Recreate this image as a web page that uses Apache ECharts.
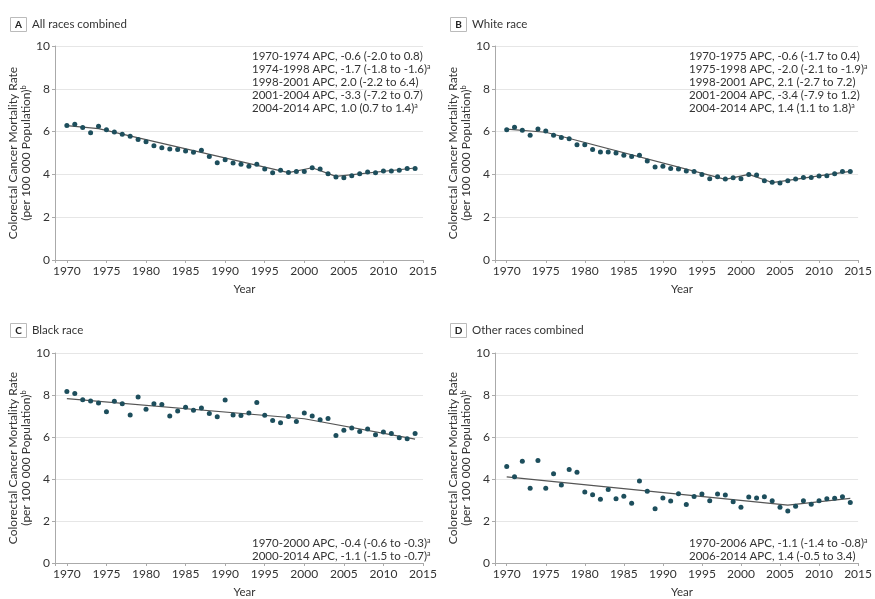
<!DOCTYPE html>
<html>
<head>
<meta charset="utf-8">
<script src="https://cdn.jsdelivr.net/npm/echarts@6/dist/echarts.min.js"></script>
<style>
  html, body { margin: 0; padding: 0; background: #fff; }
  #chart { width: 875px; height: 599px; }
</style>
</head>
<body>
<div id="chart"></div>
<script>
// 年份
const years = [1970, 1971, 1972, 1973, 1974, 1975, 1976, 1977, 1978, 1979,
  1980, 1981, 1982, 1983, 1984, 1985, 1986, 1987, 1988, 1989,
  1990, 1991, 1992, 1993, 1994, 1995, 1996, 1997, 1998, 1999,
  2000, 2001, 2002, 2003, 2004, 2005, 2006, 2007, 2008, 2009,
  2010, 2011, 2012, 2013, 2014];

// 各组死亡率 (per 100 000)
const allRaces = [6.28, 6.34, 6.19, 5.95, 6.25, 6.09, 5.98, 5.88, 5.78, 5.63,
  5.53, 5.34, 5.25, 5.19, 5.16, 5.09, 5.03, 5.13, 4.84, 4.55,
  4.69, 4.53, 4.47, 4.38, 4.47, 4.25, 4.08, 4.19, 4.09, 4.13,
  4.13, 4.31, 4.25, 4.03, 3.88, 3.84, 3.94, 4.03, 4.11, 4.08,
  4.16, 4.16, 4.19, 4.28, 4.28];
const whiteRace = [6.09, 6.2, 6.06, 5.83, 6.12, 6.03, 5.83, 5.73, 5.67, 5.39,
  5.39, 5.16, 5.05, 5.05, 5.0, 4.89, 4.84, 4.89, 4.63, 4.34,
  4.38, 4.28, 4.25, 4.16, 4.14, 4.0, 3.80, 3.89, 3.78, 3.84,
  3.80, 4.0, 3.97, 3.70, 3.63, 3.60, 3.70, 3.78, 3.86, 3.85,
  3.93, 3.94, 4.03, 4.13, 4.13];
const blackRace = [8.17, 8.07, 7.77, 7.71, 7.62, 7.2, 7.7, 7.58, 7.05, 7.9,
  7.32, 7.58, 7.55, 7.0, 7.24, 7.42, 7.27, 7.38, 7.12, 6.97,
  7.76, 7.05, 7.02, 7.14, 7.64, 7.04, 6.79, 6.68, 6.98, 6.74,
  7.14, 7.0, 6.82, 6.88, 6.07, 6.32, 6.43, 6.26, 6.38, 6.11,
  6.24, 6.17, 5.96, 5.92, 6.17];
const otherRaces = [4.59, 4.11, 4.84, 3.56, 4.88, 3.56, 4.25, 3.72, 4.45, 4.32,
  3.38, 3.25, 3.04, 3.5, 3.06, 3.18, 2.84, 3.9, 3.42, 2.58,
  3.09, 2.95, 3.3, 2.78, 3.17, 3.28, 2.97, 3.28, 3.24, 2.92,
  2.66, 3.14, 3.1, 3.15, 2.97, 2.66, 2.48, 2.7, 2.97, 2.8,
  2.97, 3.06, 3.08, 3.15, 2.88];

// Joinpoint 拟合线的转折点
const joinYearsA = [1970, 1974, 1998, 2001, 2004, 2014];
const joinRateA = [6.28, 6.14, 4.08, 4.31, 3.91, 4.30];
const joinYearsB = [1970, 1975, 1998, 2001, 2004, 2014];
const joinRateB = [6.12, 5.97, 3.77, 4.0, 3.62, 4.14];
const joinYearsC = [1970, 2000, 2014];
const joinRateC = [7.83, 6.87, 5.9];
const joinYearsD = [1970, 2006, 2014];
const joinRateD = [4.1, 2.76, 3.08];

const panelLetters = ['A', 'B', 'C', 'D'];
const panelTitles = ['All races combined', 'White race', 'Black race', 'Other races combined'];

const apcA = ['1970-1974 APC, -0.6 (-2.0 to 0.8)', '1974-1998 APC, -1.7 (-1.8 to -1.6){sup|a}',
  '1998-2001 APC, 2.0 (-2.2 to 6.4)', '2001-2004 APC, -3.3 (-7.2 to 0.7)', '2004-2014 APC, 1.0 (0.7 to 1.4){sup|a}'];
const apcB = ['1970-1975 APC, -0.6 (-1.7 to 0.4)', '1975-1998 APC, -2.0 (-2.1 to -1.9){sup|a}',
  '1998-2001 APC, 2.1 (-2.7 to 7.2)', '2001-2004 APC, -3.4 (-7.9 to 1.2)', '2004-2014 APC, 1.4 (1.1 to 1.8){sup|a}'];
const apcC = ['1970-2000 APC, -0.4 (-0.6 to -0.3){sup|a}', '2000-2014 APC, -1.1 (-1.5 to -0.7){sup|a}'];
const apcD = ['1970-2006 APC, -1.1 (-1.4 to -0.8){sup|a}', '2006-2014 APC, 1.4 (-0.5 to 3.4)'];

const FONT = 'Lato, "Open Sans", sans-serif';
const TXT = '#333';
const DOT = '#1d4e5c';

const chart = echarts.init(document.getElementById('chart'));

// 四个面板的位置
const grids = [
  { left: 55, top: 46, width: 368, height: 214 },
  { left: 495, top: 46, width: 368, height: 214 },
  { left: 55, top: 353, width: 368, height: 214 },
  { left: 495, top: 353, width: 368, height: 214 }
];

const rates = [allRaces, whiteRace, blackRace, otherRaces];
const joinYears = [joinYearsA, joinYearsB, joinYearsC, joinYearsD];
const joinRates = [joinRateA, joinRateB, joinRateC, joinRateD];
const apcs = [apcA, apcB, apcC, apcD];

const xAxes = grids.map((g, i) => ({
  type: 'value',
  gridIndex: i,
  min: 1968.5,
  max: 2015,
  splitNumber: 9,
  name: 'Year',
  nameLocation: 'middle',
  nameGap: 23,
  nameTextStyle: { fontFamily: FONT, fontSize: 11.5, color: TXT, padding: [0, 0, 0, 11] },
  axisLine: { lineStyle: { color: '#aaa', width: 1 } },
  axisTick: { length: 3, lineStyle: { color: '#aaa' } },
  axisLabel: {
    fontFamily: FONT, fontSize: 12, color: TXT, margin: 5,
    formatter: v => (v % 5 === 0 ? String(v) : '')
  },
  splitLine: { show: false }
}));

const yAxes = grids.map((g, i) => ({
  type: 'value',
  gridIndex: i,
  min: 0,
  max: 10,
  interval: 2,
  name: 'Colorectal Cancer Mortality Rate\n(per 100 000 Population){sup|b}',
  nameLocation: 'middle',
  nameRotate: 90,
  nameGap: 21,
  nameTextStyle: {
    fontFamily: FONT, fontSize: 12, color: TXT, lineHeight: 13,
    rich: { sup: { fontFamily: FONT, fontSize: 7.5, color: TXT, verticalAlign: 'top', lineHeight: 13 } }
  },
  axisLine: { show: true, lineStyle: { color: '#aaa', width: 1 } },
  axisTick: { show: true, length: 3, lineStyle: { color: '#aaa' } },
  axisLabel: { fontFamily: FONT, fontSize: 12, color: TXT, margin: 5 },
  splitLine: { lineStyle: { color: '#e6e6e6', width: 1 } }
}));

const series = [];
grids.forEach((g, i) => {
  series.push({
    type: 'line',
    xAxisIndex: i,
    yAxisIndex: i,
    data: joinYears[i].map((y, k) => [y, joinRates[i][k]]),
    showSymbol: false,
    lineStyle: { color: '#555', width: 1.2 },
    silent: true,
    z: 2
  });
  series.push({
    type: 'scatter',
    xAxisIndex: i,
    yAxisIndex: i,
    data: years.map((y, k) => [y, rates[i][k]]),
    symbolSize: 5,
    itemStyle: { color: DOT, opacity: 1 },
    z: 3
  });
});

// 标题框和APC注释
const graphic = [];
const boxPos = [[10, 17], [450, 17], [10, 323], [450, 323]];
boxPos.forEach((p, i) => {
  graphic.push({
    type: 'rect',
    shape: { x: p[0] + 0.5, y: p[1] + 0.5, width: 16, height: 14 },
    style: { fill: '#fff', stroke: '#bbb', lineWidth: 1 }
  });
  graphic.push({
    type: 'text',
    x: p[0] + 8.5, y: p[1] + 8,
    style: { text: panelLetters[i], font: 'bold 10px ' + FONT, fill: '#222', align: 'center', verticalAlign: 'middle' }
  });
  graphic.push({
    type: 'text',
    x: p[0] + 22, y: p[1] + 7.5,
    style: { text: panelTitles[i], font: '11.5px ' + FONT, fill: TXT, verticalAlign: 'middle' }
  });
});

const apcPos = [[252, 50], [689, 50], [252, 537], [689, 537]];
apcPos.forEach((p, i) => {
  graphic.push({
    type: 'text',
    x: p[0], y: p[1],
    style: {
      text: apcs[i].join('\n'),
      font: '11.5px ' + FONT,
      fill: TXT,
      lineHeight: 13,
      rich: { sup: { font: '7px ' + FONT, fill: TXT, verticalAlign: 'top', lineHeight: 13 } }
    }
  });
});

chart.setOption({
  animation: false,
  textStyle: { fontFamily: FONT },
  grid: grids,
  xAxis: xAxes,
  yAxis: yAxes,
  series: series,
  graphic: graphic
});
</script>
</body>
</html>
